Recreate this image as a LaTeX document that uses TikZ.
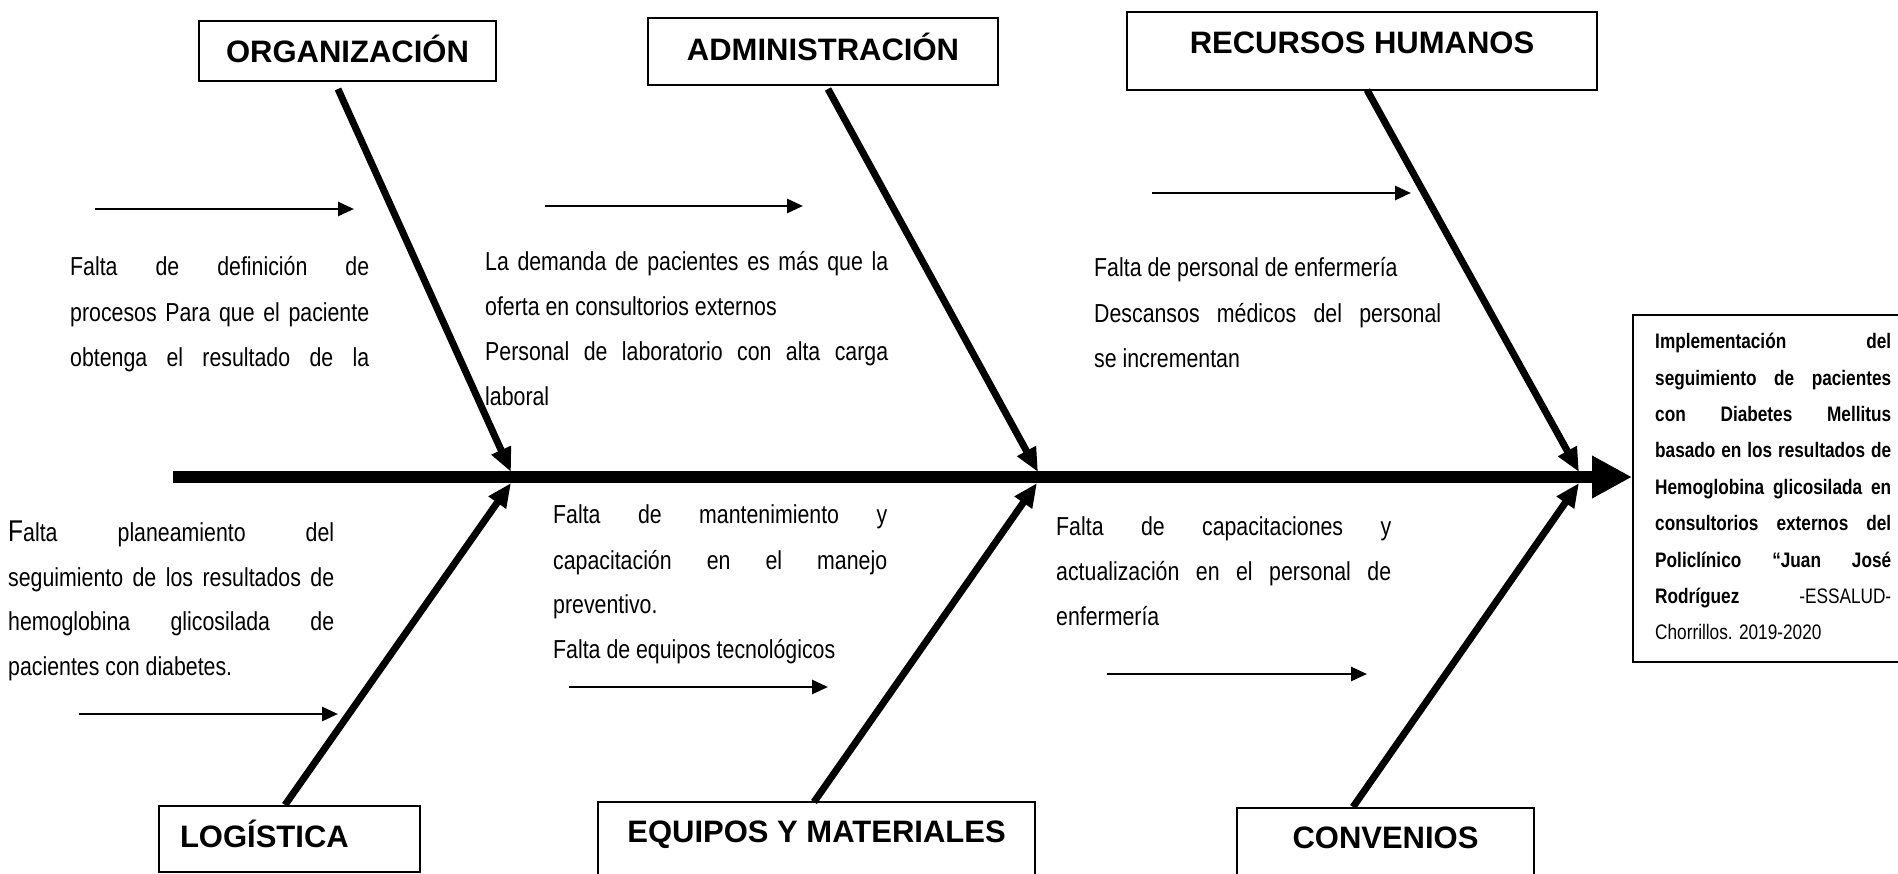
\documentclass[tikz,border=0pt]{standalone}
\usepackage{fontspec}
\setmainfont{Liberation Sans}
\newfontfamily\narrowfont[FakeStretch=0.82]{Liberation Sans}
\usetikzlibrary{arrows.meta}
\newcommand{\jl}[2]{\makebox[#1][s]{#2}}
\tikzset{
  lbl/.style={draw, line width=2pt, inner xsep=0pt, inner ysep=0pt,
    font=\fontsize{31}{36}\selectfont\bfseries, text height=22pt},
  body/.style={anchor=base west, inner sep=0pt, font=\narrowfont\fontsize{26}{30}\selectfont},
  eff/.style={anchor=base west, inner sep=0pt, font=\narrowfont\fontsize{21}{25}\selectfont\bfseries},
  bone/.style={line width=7pt, -{Triangle[length=24pt,width=20pt]}},
  small/.style={line width=2.7pt, -{Triangle[length=16pt,width=14pt]}},
  spine/.style={line width=12pt, -{Triangle[length=40pt,width=40pt]}},
}
\begin{document}
\begin{tikzpicture}[x=1pt,y=-1pt]
\useasboundingbox (0,0) rectangle (1898,873);
\fill[white] (0,0) rectangle (1898,873);
\begin{scope}
\clip (0,0) rectangle (1898,873);

% category boxes
\node[lbl, minimum width=297pt, minimum height=60pt, text depth=0pt] (org) at (347.5,51) {ORGANIZACIÓN};
\node[lbl, minimum width=350pt, minimum height=67pt, text depth=5pt] (adm) at (823,51.5) {ADMINISTRACIÓN};
\node[lbl, minimum width=470pt, minimum height=78pt, text depth=18pt] (rrhh) at (1362,51) {RECURSOS HUMANOS};
\node[lbl, minimum width=261pt, minimum height=66pt, text depth=6pt] (log) at (289.5,839) {\hbox to 261pt{\hspace{21pt}LOGÍSTICA\hfil}};
\node[lbl, minimum width=437pt, minimum height=80pt, text depth=22pt] (equ) at (816.5,842) {EQUIPOS Y MATERIALES};
\node[lbl, minimum width=297pt, minimum height=80pt, text depth=22pt] (conv) at (1385.5,848) {CONVENIOS};

% effect box
\node[draw, line width=2pt, inner sep=0pt, minimum width=277pt, minimum height=347pt] (eff) at (1771.5,488.5) {};
\node[eff] (e1) at (1655,348) {\jl{236pt}{Implementación del}};
\node[eff] (e2) at (1655,385) {\jl{236pt}{seguimiento de pacientes}};
\node[eff] (e3) at (1655,421) {\jl{236pt}{con Diabetes Mellitus}};
\node[eff] (e4) at (1655,457) {\jl{236pt}{basado en los resultados de}};
\node[eff] (e5) at (1655,494) {\jl{236pt}{Hemoglobina glicosilada en}};
\node[eff] (e6) at (1655,530) {\jl{236pt}{consultorios externos del}};
\node[eff] (e7) at (1655,567) {\jl{236pt}{Policlínico “Juan José}};
\node[eff] (e8) at (1655,603) {\jl{236pt}{Rodríguez \mdseries -ESSALUD-}};
\node[eff, font=\narrowfont\fontsize{21}{25}\selectfont] (e9) at (1655,639) {Chorrillos. 2019-2020};

% text blocks
\node[body] (t1a) at (70,275) {\jl{299pt}{Falta de definición de}};
\node[body] (t1b) at (70,321) {\jl{299pt}{procesos Para que el paciente}};
\node[body] (t1c) at (70,366) {\jl{299pt}{obtenga el resultado de la}};

\node[body] (t2a) at (485,270) {\jl{403pt}{La demanda de pacientes es más que la}};
\node[body] (t2b) at (485,315) {oferta en consultorios externos};
\node[body] (t2c) at (485,360) {\jl{403pt}{Personal de laboratorio con alta carga}};
\node[body] (t2d) at (485,405) {laboral};

\node[body] (t3a) at (1094,276) {Falta de personal de enfermería};
\node[body] (t3b) at (1094,322) {\jl{347pt}{Descansos médicos del personal}};
\node[body] (t3c) at (1094,367) {se incrementan};

\node[body] (t4a) at (8,541) {\jl{326pt}{{\fontsize{30}{30}\selectfont F}alta planeamiento del}};
\node[body] (t4b) at (8,586) {\jl{326pt}{seguimiento de los resultados de}};
\node[body] (t4c) at (8,630) {\jl{326pt}{hemoglobina glicosilada de}};
\node[body] (t4d) at (8,675) {pacientes con diabetes.};

\node[body] (t5a) at (553,523) {\jl{334pt}{Falta de mantenimiento y}};
\node[body] (t5b) at (553,569) {\jl{334pt}{capacitación en el manejo}};
\node[body] (t5c) at (553,613) {preventivo.};
\node[body] (t5d) at (553,658) {Falta de equipos tecnológicos};

\node[body] (t6a) at (1056,535) {\jl{335pt}{Falta de capacitaciones y}};
\node[body] (t6b) at (1056,580) {\jl{335pt}{actualización en el personal de}};
\node[body] (t6c) at (1056,625) {enfermería};

% coordinates
\coordinate (sp0) at (173,477);
\coordinate (sp1) at (1632,477);
\coordinate (orgS) at (338,89);   \coordinate (jA) at (511,472);
\coordinate (admS) at (828,89);   \coordinate (jB) at (1038,472);
\coordinate (rhS) at (1367,90);   \coordinate (jC) at (1579,472);
\coordinate (logS) at (285,805);  \coordinate (jAb) at (511,483);
\coordinate (eqS) at (814,802);   \coordinate (jBb) at (1037,483);
\coordinate (conS) at (1353,807); \coordinate (jCb) at (1579,483);

\coordinate (a1s) at (95,209);   \coordinate (a1e) at (354,209);
\coordinate (a2s) at (545,206);  \coordinate (a2e) at (803,206);
\coordinate (a3s) at (1152,193); \coordinate (a3e) at (1411,193);
\coordinate (a4s) at (79,714);   \coordinate (a4e) at (338,714);
\coordinate (a5s) at (569,687);  \coordinate (a5e) at (828,687);
\coordinate (a6s) at (1107,674); \coordinate (a6e) at (1367,674);

% spine
\draw[spine] (sp0) -- (sp1);
% bones
\draw[bone] (orgS) -- (jA);
\draw[bone] (admS) -- (jB);
\draw[bone] (rhS) -- (jC);
\draw[bone] (logS) -- (jAb);
\draw[bone] (eqS) -- (jBb);
\draw[bone] (conS) -- (jCb);
% small arrows
\draw[small] (a1s) -- (a1e);
\draw[small] (a2s) -- (a2e);
\draw[small] (a3s) -- (a3e);
\draw[small] (a4s) -- (a4e);
\draw[small] (a5s) -- (a5e);
\draw[small] (a6s) -- (a6e);
\end{scope}
\end{tikzpicture}
\end{document}
